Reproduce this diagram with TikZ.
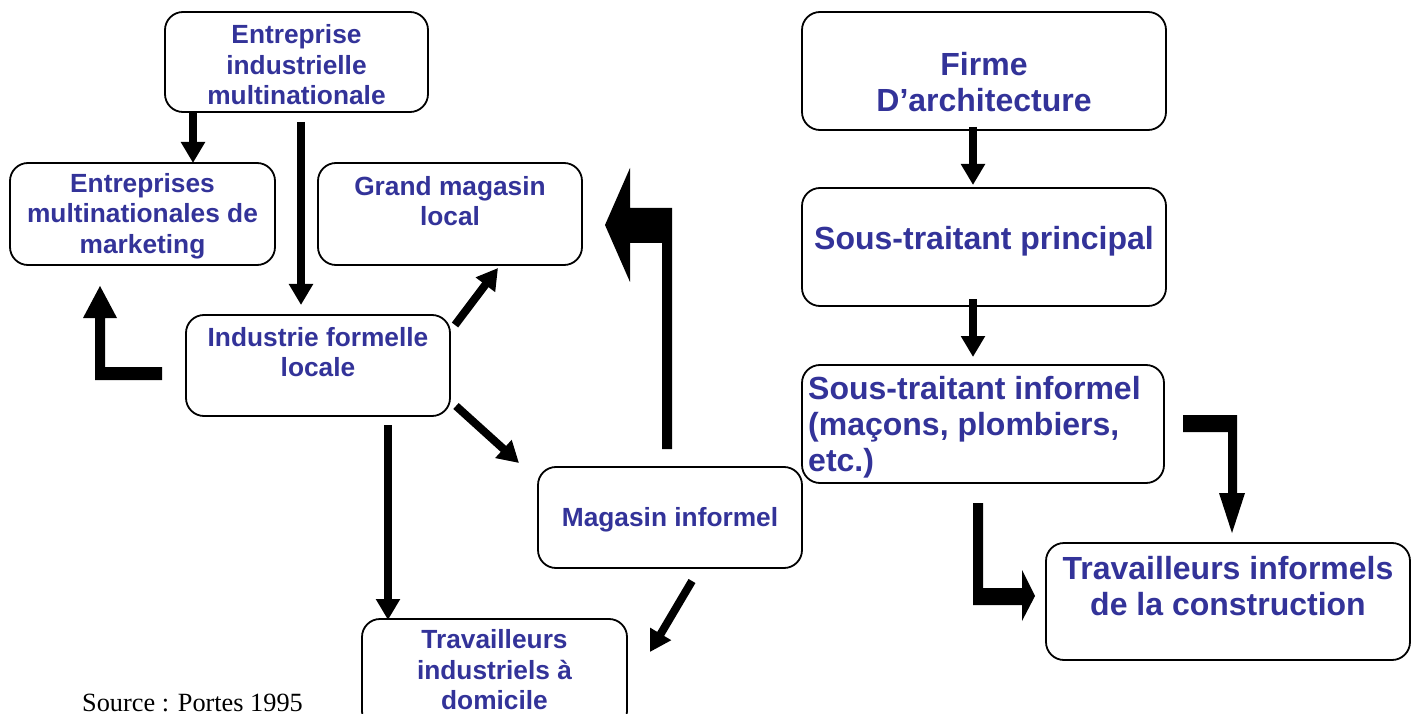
\documentclass[tikz,border=0pt]{standalone}
\usepackage{fontspec}
\setmainfont{Liberation Sans}
\newfontfamily\srcfont{Liberation Serif}
\usetikzlibrary{arrows.meta}
\definecolor{txtblue}{HTML}{333399}
\begin{document}
\begin{tikzpicture}[x=1pt,y=-1pt,
  box/.style={draw=black, line width=1.8pt, rounded corners=18pt, fill=white, inner sep=0pt},
  ltxt/.style={text=txtblue, font=\fontsize{26.3}{30.5}\selectfont\bfseries, align=center, inner sep=0pt},
  rtxt/.style={text=txtblue, font=\fontsize{32}{36}\selectfont\bfseries, align=center, inner sep=0pt},
  thin arrow/.style={line width=8pt, -{Triangle[width=23pt,length=21pt]}},
  thick arrow/.style={fill=black, draw=none}]
\useasboundingbox (0,0) rectangle (1417,714);
\clip (0,0) rectangle (1417,714);
% boxes
\node[box, minimum width=263pt, minimum height=100pt] (b1) at (296.5,62) {};
\node[box, minimum width=265pt, minimum height=102pt] (b2) at (142.5,214) {};
\node[box, minimum width=264pt, minimum height=102pt] (b3) at (450,214) {};
\node[box, minimum width=264pt, minimum height=101pt] (b4) at (318,365.5) {};
\node[box, minimum width=264pt, minimum height=101pt] (b5) at (670,517.5) {};
\node[box, minimum width=265pt, minimum height=110pt] (b6) at (494.5,674) {};
\node[box, minimum width=364pt, minimum height=118pt] (b7) at (984,71) {};
\node[box, minimum width=364pt, minimum height=118pt] (b8) at (984,247) {};
\node[box, minimum width=362pt, minimum height=118pt] (b9) at (983,424) {};
\node[box, minimum width=364pt, minimum height=117pt] (b10) at (1228,601.5) {};
% texts
\node[ltxt] (t1) at (296.5,65) {Entreprise\\industrielle\\multinationale};
\node[ltxt] (t2) at (142.5,216) {Entreprises\\multinationales de\\marketing};
\node[ltxt] (t3) at (450,201) {Grand magasin\\local};
\node[ltxt] (t4) at (318,352) {Industrie formelle\\locale};
\node[ltxt] (t5) at (670,520) {Magasin informel};
\node[ltxt] (t6) at (494.5,670) {Travailleurs\\industriels à\\domicile};
\node[rtxt] (t7) at (984,82) {Firme\\D’architecture};
\node[rtxt] (t8) at (984,241) {Sous-traitant principal};
\node[rtxt, align=left, anchor=west] (t9) at (808,427) {Sous-traitant informel\\(maçons, plombiers,\\etc.)};
\node[rtxt] (t10) at (1228,586) {Travailleurs informels\\de la construction};
\node[font=\srcfont\fontsize{26.3}{30}\selectfont, inner sep=0pt, anchor=base west] (src) at (82,711) {Source : Portes 1995};
% thin arrows
\coordinate (a1s) at (193,112); \coordinate (a1e) at (193,163);
\coordinate (a2s) at (301,122); \coordinate (a2e) at (301,305);
\coordinate (a3s) at (455,325); \coordinate (a3e) at (498,268);
\coordinate (a4s) at (456,406); \coordinate (a4e) at (519,463);
\coordinate (a5s) at (388,425); \coordinate (a5e) at (388,620);
\coordinate (a6s) at (692,581); \coordinate (a6e) at (650,652);
\coordinate (a7s) at (973,127); \coordinate (a7e) at (973,185);
\coordinate (a8s) at (973,299); \coordinate (a8e) at (973,357);
\draw[thin arrow] (a1s) -- (a1e);
\draw[thin arrow] (a2s) -- (a2e);
\draw[thin arrow] (a3s) -- (a3e);
\draw[thin arrow] (a4s) -- (a4e);
\draw[thin arrow] (a5s) -- (a5e);
\draw[thin arrow] (a6s) -- (a6e);
\draw[thin arrow] (a7s) -- (a7e);
\draw[thin arrow] (a8s) -- (a8e);
% thick bent arrows
\fill[thick arrow] (162,367) -- (105,367) -- (105,318) -- (117,318) -- (100,286) -- (83,318) -- (95,318) -- (95,380) -- (162,380) -- cycle;
\fill[thick arrow] (662,449) -- (672,449) -- (672,208) -- (630,208) -- (630,168) -- (605,225) -- (630,282) -- (630,243) -- (662,243) -- cycle;
\fill[thick arrow] (1183,415) -- (1237,415) -- (1237,493) -- (1245,493) -- (1232,533) -- (1219,493) -- (1228,493) -- (1228,432) -- (1183,432) -- cycle;
\fill[thick arrow] (973,503) -- (983,503) -- (983,588) -- (1022,588) -- (1022,570) -- (1035,596) -- (1022,621) -- (1022,605) -- (973,605) -- cycle;
\end{tikzpicture}
\end{document}
